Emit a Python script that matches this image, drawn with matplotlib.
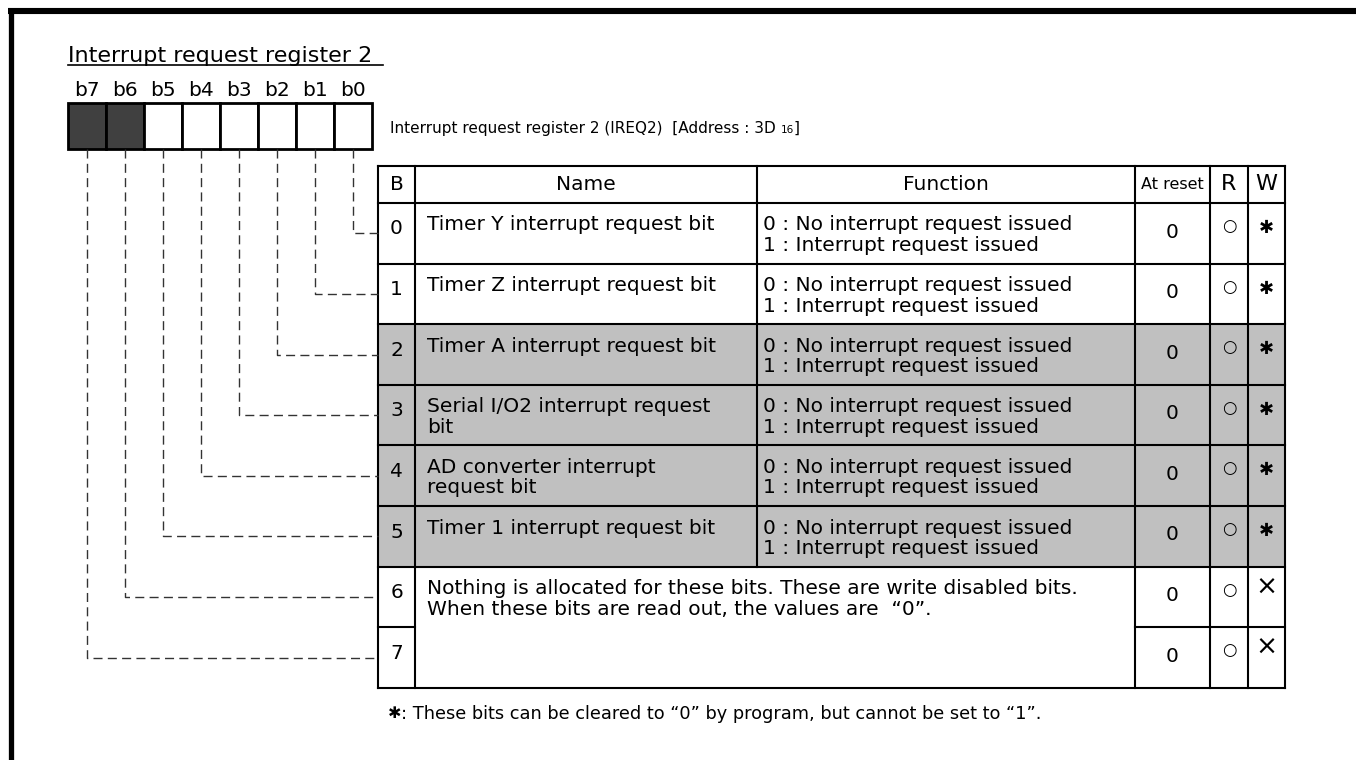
import matplotlib.pyplot as plt
from matplotlib.patches import Rectangle

plt.rcParams['font.family'] = ['DejaVu Sans']

# ---- data ----
title = "Interrupt request register 2"
reg_desc = "Interrupt request register 2 (IREQ2)  [Address : 3D "
addr_sub = "16"
bit_labels = ["b7", "b6", "b5", "b4", "b3", "b2", "b1", "b0"]
unused_bits = [7, 6]
headers = ["B", "Name", "Function", "At reset", "R", "W"]
bits = ["0", "1", "2", "3", "4", "5", "6", "7"]
names = ["Timer Y interrupt request bit",
         "Timer Z interrupt request bit",
         "Timer A interrupt request bit",
         "Serial I/O2 interrupt request\nbit",
         "AD converter interrupt\nrequest bit",
         "Timer 1 interrupt request bit"]
functions = ["0 : No interrupt request issued\n1 : Interrupt request issued"] * 6
nothing_text = ("Nothing is allocated for these bits. These are write disabled bits.\n"
                "When these bits are read out, the values are  \u201c0\u201d.")
at_reset = ["0"] * 8
r_marks = ["\u25cb"] * 8
w_marks = ["\u2731"] * 6 + ["\u00d7", "\u00d7"]
shaded = [2, 3, 4, 5]
footnote = ": These bits can be cleared to \u201c0\u201d by program, but cannot be set to \u201c1\u201d."

# ---- figure in pixel coords ----
fig = plt.figure(figsize=(13.56, 7.6), dpi=100)
ax = fig.add_axes([0, 0, 1, 1])
ax.set_xlim(0, 1356)
ax.set_ylim(760, 0)
ax.axis('off')

fs = 14.5
lw_t = 1.5

# outer frame (top and left only)
ax.plot([8, 1356], [11, 11], color='black', lw=4.4, solid_capstyle='butt')
ax.plot([10.5, 10.5], [8, 760], color='black', lw=3.8, solid_capstyle='butt')

# register title
ax.text(68, 62, title, fontsize=16, ha='left', va='baseline')
ax.plot([68, 383], [64.5, 64.5], color='black', lw=1.2)

# register bit boxes
cell_w = 38
reg_x0, reg_y0, reg_h = 68, 103, 46
for i, lab in enumerate(bit_labels):
    x = reg_x0 + i * cell_w
    bit = 7 - i
    fc = '#404040' if bit in unused_bits else 'white'
    ax.add_patch(Rectangle((x, reg_y0), cell_w, reg_h, fc=fc, ec='black', lw=2))
    ax.text(x + cell_w / 2, 90, lab, fontsize=fs, ha='center', va='center')

t = ax.text(390, 128, reg_desc, fontsize=11, ha='left', va='center')
s = ax.annotate(addr_sub, xy=(1, 0), xycoords=t, fontsize=7.5, ha='left', va='bottom',
                xytext=(0, 0.5), textcoords='offset points')
ax.annotate("]", xy=(1, 0), xycoords=s, fontsize=11, ha='left', va='bottom',
            xytext=(0, -0.5), textcoords='offset points')

# table geometry
col_x = [378, 415, 757, 1135, 1210, 1248, 1285]
tab_top, head_bot, row_h = 166, 203, 60.6
nrows = len(bits)
tab_bot = head_bot + nrows * row_h


def row_top(k):
    return head_bot + k * row_h


# shading
ax.add_patch(Rectangle((col_x[0], row_top(shaded[0])), col_x[-1] - col_x[0],
                       len(shaded) * row_h, fc='#c0c0c0', ec='none'))

# horizontal lines
for y in [tab_top, head_bot] + [row_top(k) for k in range(1, 7)] + [tab_bot]:
    ax.plot([col_x[0], col_x[-1]], [y, y], color='black', lw=lw_t)
y67 = row_top(7)
ax.plot([col_x[0], col_x[1]], [y67, y67], color='black', lw=lw_t)
ax.plot([col_x[3], col_x[-1]], [y67, y67], color='black', lw=lw_t)

# vertical lines
for j, x in enumerate(col_x):
    yb = row_top(6) if j == 2 else tab_bot
    ax.plot([x, x], [tab_top, yb], color='black', lw=lw_t)

# header
hy = (tab_top + head_bot) / 2
for j, h in enumerate(headers):
    xc = (col_x[j] + col_x[j + 1]) / 2
    size = 11.5 if h == "At reset" else (16 if h in ("R", "W") else fs)
    ax.text(xc, hy, h, fontsize=size, ha='center', va='center')


def lines_at(x, y0, txt, size=fs, gap=20.5):
    for n, ln in enumerate(txt.split("\n")):
        ax.text(x, y0 + n * gap, ln, fontsize=size, ha='left', va='center')


for k in range(nrows):
    top = row_top(k)
    ax.text((col_x[0] + col_x[1]) / 2, top + 26, bits[k], fontsize=fs, ha='center', va='center')
    if k < len(names):
        lines_at(col_x[1] + 12, top + 22, names[k])
        lines_at(col_x[2] + 6, top + 22, functions[k])
    ax.text((col_x[3] + col_x[4]) / 2, top + 29, at_reset[k], fontsize=fs, ha='center', va='center')
    ax.text((col_x[4] + col_x[5]) / 2, top + 23, r_marks[k], fontsize=12, ha='center', va='center')
    if w_marks[k] == "\u00d7":
        ax.text((col_x[5] + col_x[6]) / 2, top + 21, w_marks[k], fontsize=19, ha='center', va='center')
    else:
        ax.text((col_x[5] + col_x[6]) / 2, top + 25, w_marks[k], fontsize=13, ha='center', va='center')

lines_at(col_x[1] + 12, row_top(6) + 22, nothing_text)

# dashed connectors
for i in range(len(bit_labels)):
    bit = 7 - i
    x = reg_x0 + i * cell_w + cell_w / 2
    yc = row_top(bit) + row_h / 2
    ax.plot([x, x, col_x[0]], [reg_y0 + reg_h, yc, yc], color='#333333', lw=1.0,
            dashes=(6.5, 3.8))

# footnote
fn = ax.text(388, 714, "\u2731", fontsize=11.5, fontweight='bold', ha='left', va='center')
ax.annotate(footnote, xy=(1, 0.5), xycoords=fn, fontsize=12.8, ha='left', va='center')

fig.savefig("out.png", dpi=100)
